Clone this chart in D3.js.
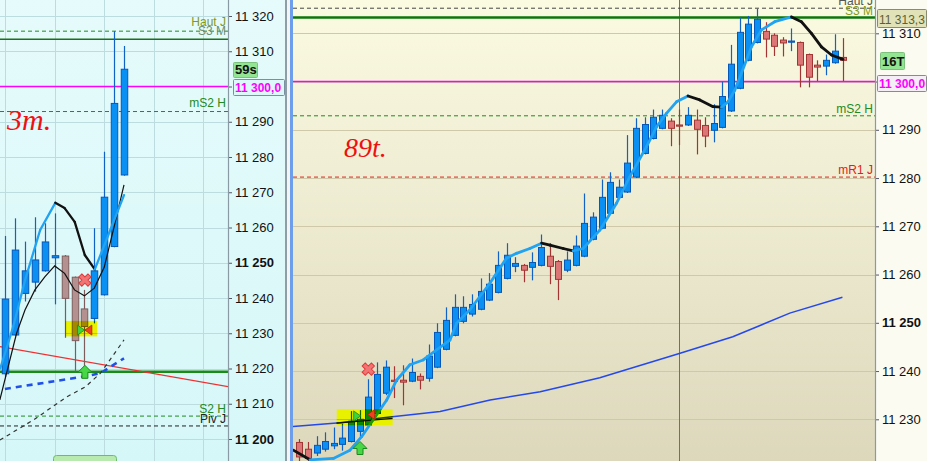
<!DOCTYPE html>
<html><head><meta charset="utf-8">
<script src="https://cdn.jsdelivr.net/npm/d3@7"></script>
<style>body{margin:0;overflow:hidden;background:#fff}svg{display:block}</style>
</head><body>
<svg id="c" width="927" height="461"></svg>
<script>
// ---------------- DATA ----------------
// Left panel (3 min) candles
const lOpen  = [11218.5,11229.5,11241.3,11244.5,11247.7,11251.4,11251.9,11245.9,11236.9,11234.2,11240.9,11254.6,11274.9];
const lClose = [11239.7,11253.6,11247.7,11250.8,11255.9,11252.0,11239.9,11227.9,11231.9,11247.7,11268.6,11295.2,11304.9];
const lHigh  = [11257.6,11262.6,11256.0,11262.9,11261.2,11264.0,11252.2,11246.1,11242.3,11259.8,11281.5,11315.7,11311.5];
const lLow   = [11217.5,11229.3,11239.0,11241.8,11247.5,11238.2,11228.7,11219.1,11219.1,11232.8,11240.7,11254.4,11274.7];
// Left panel lines: [index, value]
const lMaFast = [[-0.5,11220],[0.81,11231.9],[2,11245],[3.53,11259.3],[5.06,11267.0],[6,11265.5],[7.02,11261.6],[8.04,11252.2],[9.05,11248.1],[10.07,11255.4],[11.09,11262.7],[12,11269.2]];
const lMaThin = [[-0.54,11211.1],[1.15,11230],[2,11236.6],[3,11242.3],[4,11246],[5,11249.1],[6,11247],[7,11242.3],[8,11240.6],[9,11242.8],[10,11248.7],[11,11260.2],[12,11272.1]];
const lRedLine = [[-0.54,11226.2],[22.65,11214.8]];
const lBlackDash = [[-0.54,11199.7],[2.85,11205.4],[6.25,11212.0],[8.1,11214.8],[9.63,11218.7],[12,11228.1]];
const lBlueDash = [[-0.03,11214.2],[7.94,11217.7],[9.63,11218.7],[12,11222.9]];
// Left levels
const lLevels = [
  {name:"Haut J", v:11315.7, color:"#1f8a1f", dash:"4,3", w:1, label:"#7f9a1a", ly:26},
  {name:"S3 M",  v:11313.4, color:"#1d6e1d", dash:null, w:1.3, label:"#6f8f6f", ly:35},
  {name:"",      v:11300.0, color:"#ff00ff", dash:null, w:1.5},
  {name:"mS2 H", v:11292.9, color:"#1f8a1f", dash:"4,3", w:1, label:"#238a23", ly:107},
  {name:"",      v:11219.1, color:"#1a8a1a", dash:null, w:2.5},
  {name:"S2 H",  v:11206.5, color:"#1f8a1f", dash:"4,3", w:1, label:"#238a23", ly:413},
  {name:"Piv J", v:11203.7, color:"#222222", dash:"4,3", w:1, label:"#222222", ly:423}
];
// Right panel (89 ticks) candles
const rOpen = [11225.2,11223.8,11223.0,11223.8,11224.5,11224.8,11225.4,11227.5,11228.8,11231.2,
 11235.4,11238.1,11238.1,11237.9,11238.9,11238.5,11240.8,11244.5,11247.4,11250.3,
 11251.8,11252.8,11254.7,11256.3,11259.2,11261.7,11261.9,11261.5,11261.9,11263.8,
 11262.7,11260.9,11261.9,11263.8,11267.3,11269.6,11272.7,11276.0,11277.1,11280.2,
 11285.1,11288.2,11290.3,11291.8,11291.0,11291.0,11292.0,11290.9,11289.9,11290.5,
 11293.9,11298.6,11304.4,11308.1,11310.4,11309.6,11308.6,11308.2,11308.1,11305.6,
 11303.4,11303.2,11303.9,11305.0];
const rClose = [11222.2,11221.9,11224.6,11225.4,11225.0,11226.1,11229.6,11230.0,11234.6,11239.3,
 11240.8,11237.9,11237.7,11239.7,11238.1,11243.1,11248.0,11250.5,11253.2,11253.2,
 11253.8,11256.5,11258.0,11261.9,11264.0,11262.3,11260.9,11262.5,11265.6,11261.7,
 11259.0,11263.0,11265.9,11270.6,11271.9,11276.0,11279.1,11278.1,11283.1,11290.3,
 11291.1,11292.6,11293.0,11290.3,11290.8,11293.0,11290.1,11288.7,11291.3,11296.9,
 11303.6,11310.2,11311.9,11312.9,11308.8,11307.3,11308.0,11308.4,11303.4,11300.9,
 11303.0,11304.4,11306.3,11304.4];
const rHigh = [11225.9,11225.3,11226.5,11227.3,11228.3,11229.1,11231.7,11231.9,11238.3,11241.8,
 11242.2,11241.0,11241.2,11242.6,11239.5,11245.5,11249.9,11253.2,11255.9,11255.5,
 11255.9,11259.2,11260.3,11264.8,11266.5,11263.6,11262.2,11264.6,11268.3,11266.5,
 11263.0,11264.8,11268.1,11276.8,11272.9,11279.7,11281.2,11279.7,11288.9,11292.4,
 11292.6,11294.2,11294.2,11292.4,11294.2,11294.7,11294.2,11292.6,11295.3,11300.0,
 11307.6,11313.4,11313.6,11315.1,11312.3,11310.0,11309.2,11311.0,11308.3,11305.8,
 11304.4,11305.6,11309.8,11309.0];
const rLow = [11220.0,11219.8,11222.4,11223.3,11223.8,11223.5,11225.2,11226.3,11228.6,11231.0,
 11235.0,11234.4,11232.9,11237.7,11236.2,11237.8,11240.6,11244.3,11247.2,11249.9,
 11251.3,11252.6,11254.5,11256.1,11259.0,11260.5,11258.4,11258.8,11261.7,11258.0,
 11254.7,11260.5,11261.7,11263.6,11267.1,11269.4,11272.5,11275.8,11276.9,11280.0,
 11284.9,11288.0,11290.1,11286.6,11286.8,11290.8,11284.9,11286.4,11287.4,11290.3,
 11293.7,11298.4,11304.2,11307.9,11305.0,11305.3,11305.2,11306.3,11298.8,11298.8,
 11300.1,11301.3,11303.7,11300.1];
// Right panel lines: [index, value]
const rMaFast = [[-0.69,11223.6],[1.24,11221.6],[3.94,11221.9],[5.87,11223.6],[7.22,11226.4],[8.56,11229.9],[10.12,11234.0],[11.27,11238.1],[12.81,11241.3],[14.35,11242.3],[15.9,11244.4],[17.44,11246.4],[18.22,11249.9],[19.76,11252.7],[22.07,11258.2],[24.0,11263.4],[25.16,11264.4],[26.7,11265.4],[28.06,11266.5],[29.02,11266.1],[30.56,11265.4],[31.71,11264.9],[32.87,11265.4],[34.8,11269.2],[36.74,11274.8],[38.28,11280.3],[40.21,11286.5],[41.37,11290.6],[42.52,11293.4],[43.68,11295.8],[45.02,11297.0],[46.38,11296.2],[47.92,11294.8],[48.89,11294.7],[49.65,11295.8],[50.43,11298.2],[51.2,11301.7],[52.36,11307.2],[53.52,11310.7],[55.06,11312.4],[57.0,11313.4],[58.15,11312.4],[59.31,11310.0],[60.47,11307.2],[61.63,11305.5],[62.97,11304.6]];
const rMaSlow = [[-0.73,11228.5],[4.7,11229.3],[10.5,11230.5],[16.3,11231.6],[22.1,11234.0],[27.9,11235.7],[34.8,11238.6],[44.1,11243.7],[50.2,11247.1],[56.8,11252.0],[62.9,11255.3]];
const rMaThin = [[4.3,11229.2],[10.8,11230.2]];
const rLevels = [
  {name:"Haut J", v:11315.2, color:"#444444", dash:"4,3", w:1, label:"#555555", ly:5},
  {name:"S3 M",  v:11313.3, color:"#0b770b", dash:null, w:2.5, label:"#7f9a1a", ly:14.5},
  {name:"",      v:11300.0, color:"#ff00ff", dash:null, w:1.5},
  {name:"mS2 H", v:11292.9, color:"#1f8a1f", dash:"4,3", w:1, label:"#238a23", ly:113},
  {name:"mR1 J", v:11280.2, color:"#e02020", dash:"4,3", w:1, label:"#e02020", ly:174}
];
const lTicks = [11200,11210,11220,11230,11240,11250,11260,11270,11280,11290,11300,11310,11320];
const rTicks = [11230,11240,11250,11260,11270,11280,11290,11300,11310];
const coveredTick = 11300; // hidden under the price box
// signals [index, value]
const lSig = {box:[6.07,9.3,11233.5,11229.1], triG:[7.6,11230.9], triR:[8.45,11230.9], cross:[8.05,11245.1], arrow:[8.05,11220.9]};
const rSig = {box:[4.33,10.81,11232.1,11228.8], triG:[6.64,11230.7], triR:[8.38,11231.0], cross:[7.99,11240.4], arrow:[7.03,11225.4]};

// ---------------- DRAW ----------------
const svg = d3.select("#c");
const defs = svg.append("defs");
function grad(id, c1, c2){
  const g = defs.append("linearGradient").attr("id",id).attr("x1",0).attr("y1",0).attr("x2",0).attr("y2",1);
  g.append("stop").attr("offset","0%").attr("stop-color",c1);
  g.append("stop").attr("offset","100%").attr("stop-color",c2);
}
grad("gL","#e6fbfb","#d6f7f8");
grad("gR","#fbfbe2","#ddd8bc");
defs.append("clipPath").attr("id","cL").append("rect").attr("x",0).attr("y",0).attr("width",228).attr("height",461);
defs.append("clipPath").attr("id","cR").append("rect").attr("x",293).attr("y",0).attr("width",582).attr("height",461);

const yL = d3.scaleLinear().domain([11200,11320]).range([439,16]);
const xL = d3.scaleLinear().domain([0,12]).range([5.2,124]);
const yR = d3.scaleLinear().domain([11230,11310]).range([419.3,33.3]);
const xR = d3.scaleLinear().domain([0,63]).range([299.3,843.3]);

svg.append("rect").attr("x",0).attr("y",0).attr("width",285).attr("height",461).attr("fill","url(#gL)");
svg.append("rect").attr("x",285).attr("y",0).attr("width",2).attr("height",461).attr("fill","#8e9ea4");
svg.append("rect").attr("x",287).attr("y",0).attr("width",3).attr("height",461).attr("fill","#f4f4f4");
svg.append("rect").attr("x",290).attr("y",0).attr("width",3).attr("height",461).attr("fill","#6d9eeb");
svg.append("rect").attr("x",293).attr("y",0).attr("width",582).attr("height",461).attr("fill","url(#gR)");
svg.append("rect").attr("x",875).attr("y",0).attr("width",52).attr("height",461).attr("fill","#fbfbf2");

const fmt = v => d3.format(",")(v).replace(",", " ");

function panel(cfg){
  const {x, y, clip, x0, x1, ticks, grid, levels, open, close, high, low, maFast, maThin, extra, sig, bw, bear, bearStroke, bearWick} = cfg;
  const g = svg.append("g").attr("clip-path", `url(#${clip})`);
  g.selectAll(".hg").data(ticks).join("line")
    .attr("x1",x0).attr("x2",x1).attr("y1",d=>Math.round(y(d))+0.5).attr("y2",d=>Math.round(y(d))+0.5)
    .attr("stroke",grid).attr("stroke-width",1);
  if (cfg.vgrid) g.selectAll(".vg").data(cfg.vgrid).join("line")
    .attr("x1",d=>Math.round(x(d))+0.5).attr("x2",d=>Math.round(x(d))+0.5).attr("y1",0).attr("y2",461)
    .attr("stroke",cfg.vgridColor).attr("stroke-width",1);
  levels.forEach(l=>{
    g.append("line").attr("x1",x0).attr("x2",x1).attr("y1",y(l.v)).attr("y2",y(l.v))
      .attr("stroke",l.color).attr("stroke-width",l.w).attr("stroke-dasharray",l.dash);
    if (l.name) svg.append("text").attr("x",x1-2).attr("y",l.ly).attr("text-anchor","end")
      .attr("font-family","Liberation Sans, Arial, sans-serif").attr("font-size",12).attr("fill",l.label).text(l.name);
  });
  const line = d3.line().x(d=>x(d[0])).y(d=>y(d[1]));
  if (extra) extra(g, line);
  const idx = d3.range(open.length);
  g.selectAll(".wick").data(idx).join("line")
    .attr("x1",i=>Math.round(x(i))+0.5).attr("x2",i=>Math.round(x(i))+0.5)
    .attr("y1",i=>y(high[i])).attr("y2",i=>y(low[i]))
    .attr("stroke",i=>close[i]>=open[i]?"#1262c4":bearWick).attr("stroke-width",1.2);
  g.selectAll(".body").data(idx).join("rect")
    .attr("x",i=>Math.round(x(i))+0.5-bw/2).attr("width",bw)
    .attr("y",i=>y(Math.max(open[i],close[i])))
    .attr("height",i=>Math.max(1.2, Math.abs(y(open[i])-y(close[i]))))
    .attr("fill",i=>close[i]>=open[i]?"#0a8ff2":bear)
    .attr("stroke",i=>close[i]>=open[i]?"#0757b8":bearStroke).attr("stroke-width",1);
  if (maThin) g.append("path").attr("d",line(maThin)).attr("fill","none").attr("stroke","#111").attr("stroke-width",1.2);
  for (let k=0;k<maFast.length-1;k++){
    const a=maFast[k], b=maFast[k+1];
    g.append("line").attr("x1",x(a[0])).attr("y1",y(a[1])).attr("x2",x(b[0])).attr("y2",y(b[1]))
      .attr("stroke", b[1]>=a[1] ? "#1fa3f2" : "#111").attr("stroke-width",cfg.maW).attr("stroke-linecap","round");
  }
  const bx = sig.box;
  g.append("rect").attr("x",x(bx[0])).attr("width",x(bx[1])-x(bx[0])).attr("y",y(bx[2])).attr("height",y(bx[3])-y(bx[2]))
    .attr("fill","#e8f200").style("mix-blend-mode","multiply");
  const tg = sig.triG, tr = sig.triR;
  g.append("path").attr("d",`M${x(tg[0])-3},${y(tg[1])-5} L${x(tg[0])+4},${y(tg[1])} L${x(tg[0])-3},${y(tg[1])+5} Z`)
    .attr("fill","#3ed23e").attr("stroke","#1a8a1a").attr("stroke-width",0.8);
  g.append("path").attr("d",`M${x(tr[0])+3},${y(tr[1])-5} L${x(tr[0])-4},${y(tr[1])} L${x(tr[0])+3},${y(tr[1])+5} Z`)
    .attr("fill","#f04020").attr("stroke","#b02010").attr("stroke-width",0.8);
  const cr = sig.cross;
  g.append("path").attr("d",d3.symbol(d3.symbolCross,95)())
    .attr("transform",`translate(${x(cr[0])},${y(cr[1])}) rotate(45)`)
    .attr("fill","#f07474").attr("stroke","#e03a3a").attr("stroke-width",1);
  const ar = sig.arrow, ax = x(ar[0]), ay = y(ar[1]);
  g.append("path").attr("d",`M${ax},${ay} L${ax+7},${ay+7} L${ax+3},${ay+7} L${ax+3},${ay+13} L${ax-3},${ay+13} L${ax-3},${ay+7} L${ax-7},${ay+7} Z`)
    .attr("fill","#46d646").attr("stroke","#1a8a1a").attr("stroke-width",1);
  return g;
}

panel({x:xL, y:yL, clip:"cL", x0:0, x1:228, ticks:lTicks, grid:"#bcdce0",
  vgrid:[0,5,10,15,20], vgridColor:"#bcdce0", levels:lLevels,
  open:lOpen, close:lClose, high:lHigh, low:lLow, maFast:lMaFast, maThin:lMaThin, maW:2.3,
  bw:6.5, bear:"#b49090", bearStroke:"#7e5c5c", bearWick:"#7e5c5c", sig:lSig,
  extra:(g,line)=>{
    g.append("path").attr("d",line(lRedLine)).attr("fill","none").attr("stroke","#f03030").attr("stroke-width",1.2);
    g.append("path").attr("d",line(lBlackDash)).attr("fill","none").attr("stroke","#333").attr("stroke-width",1.2).attr("stroke-dasharray","4,4");
    g.append("path").attr("d",line(lBlueDash)).attr("fill","none").attr("stroke","#2050e8").attr("stroke-width",2.6).attr("stroke-dasharray","6,5");
  }});

panel({x:xR, y:yR, clip:"cR", x0:293, x1:875, ticks:rTicks, grid:"#cfc9aa",
  vgrid:[44], vgridColor:"#707070", levels:rLevels,
  open:rOpen, close:rClose, high:rHigh, low:rLow, maFast:rMaFast, maThin:rMaThin, maW:2.8,
  bw:6, bear:"#dc7676", bearStroke:"#a33434", bearWick:"#a33434", sig:rSig,
  extra:(g,line)=>{
    g.append("path").attr("d",line(rMaSlow)).attr("fill","none").attr("stroke","#2448ec").attr("stroke-width",1.5);
  }});

function axis(xPos, scale, ticks){
  const a = svg.append("g").attr("transform",`translate(${xPos},0)`)
    .call(d3.axisRight(scale).tickValues(ticks).tickSize(4).tickPadding(3).tickFormat(fmt));
  a.select(".domain").remove();
  a.selectAll(".tick line").attr("stroke","#556");
  a.selectAll(".tick text").attr("font-family","Liberation Sans, Arial, sans-serif").attr("font-size",13)
    .attr("fill","#111").attr("font-weight",d=>d%50===0?"bold":"normal");
  a.selectAll(".tick").filter(d=>d===coveredTick).select("text").remove();
  svg.append("line").attr("x1",xPos+0.5).attr("x2",xPos+0.5).attr("y1",0).attr("y2",461).attr("stroke","#8a9aa4").attr("stroke-width",1.2);
}
axis(228, yL, lTicks);
axis(875, yR, rTicks);

function box(x, y, w, h, fill, stroke, text, color, size, bold){
  svg.append("rect").attr("x",x+0.5).attr("y",y+0.5).attr("width",w).attr("height",h).attr("fill",fill).attr("stroke",stroke).attr("rx",1);
  svg.append("text").attr("x",x+2).attr("y",y+h-3.5).attr("font-family","Liberation Sans, Arial, sans-serif")
    .attr("font-size",size).attr("font-weight",bold?"bold":"normal").attr("fill",color).text(text);
}
box(233,62,24,15,"#93e493","#7cc27c","59s","#111",13,true);
box(233,79,51,16,"#dcf8f8","#7890a0","11 300,0","#ff00ff",12,true);
box(877,9,49,18,"#e2e2b8","#8a8a70","11 313,3","#5e6030",12,false);
box(880,52,24,17,"#93e493","#7cc27c","16T","#111",13,true);
box(877,75,49,16,"#f6eef6","#8a8a8a","11 300,0","#ff00ff",12,true);
svg.append("rect").attr("x",53.5).attr("y",455.5).attr("width",63).attr("height",14).attr("rx",3).attr("fill","#b8eab0").attr("stroke","#6cbc6c");

svg.append("text").attr("x",7).attr("y",130).attr("font-family","Liberation Serif, serif").attr("font-style","italic")
  .attr("font-size",30).attr("fill","#ee1111").text("3m.");
svg.append("text").attr("x",344).attr("y",157).attr("font-family","Liberation Serif, serif").attr("font-style","italic")
  .attr("font-size",28).attr("fill","#ee1111").text("89t.");
</script></body></html>
